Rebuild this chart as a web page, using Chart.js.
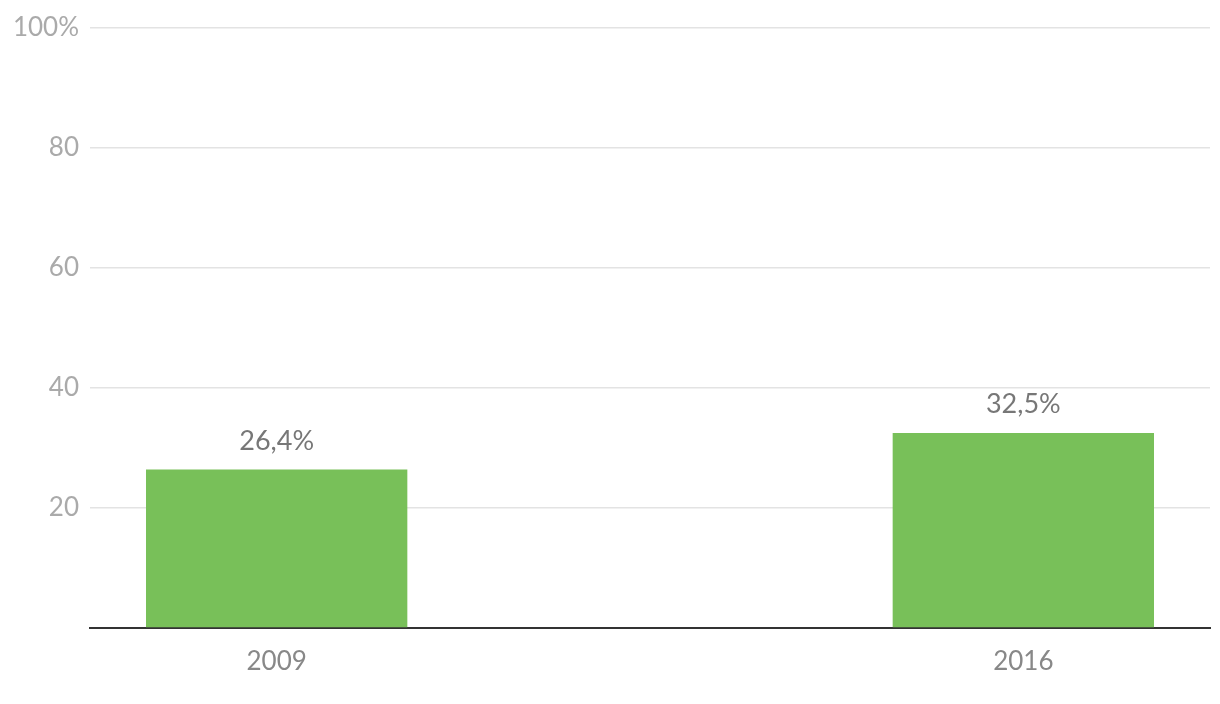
<!DOCTYPE html>
<html>
<head>
<meta charset="utf-8">
<script src="https://cdn.jsdelivr.net/npm/chart.js@4"></script>
<style>
  html, body { margin: 0; padding: 0; background: #fff; }
  #wrap { width: 1220px; height: 704px; }
</style>
</head>
<body>
<div id="wrap"><canvas id="barChart" width="1220" height="704"></canvas></div>
<script>
// chart data
const years = ['2009', '2016'];
const shares = [26.4, 32.5];
const yTicks = [0, 20, 40, 60, 80, 100];

Chart.defaults.font.family = 'Lato, "Noto Sans", sans-serif';

// draws the value above every bar
const valueLabels = {
  id: 'valueLabels',
  afterDatasetsDraw(chart) {
    const c = chart.ctx;
    const meta = chart.getDatasetMeta(0);
    c.save();
    c.fillStyle = '#777';
    c.font = '27px Lato, "Noto Sans", sans-serif';
    c.textAlign = 'center';
    c.textBaseline = 'bottom';
    meta.data.forEach((bar, i) => {
      c.fillText(shares[i].toFixed(1).replace('.', ',') + '%', bar.x, bar.y - 15);
    });
    c.restore();
  }
};

const ctx = document.getElementById('barChart').getContext('2d');
new Chart(ctx, {
  type: 'bar',
  data: {
    datasets: [{
      data: shares.map((v, i) => ({ x: i, y: v })),
      backgroundColor: '#78c059',
      categoryPercentage: 1,
      barPercentage: 0.35
    }]
  },
  options: {
    responsive: false,
    animation: false,
    layout: { padding: { top: 28, right: 10, left: 0, bottom: 0 } },
    plugins: {
      legend: { display: false },
      tooltip: { enabled: false }
    },
    scales: {
      x: {
        type: 'linear',
        min: -0.25,
        max: 1.25,
        offset: false,
        afterBuildTicks(scale) { scale.ticks = years.map((y, i) => ({ value: i })); },
        grid: { display: false },
        border: { color: '#333', width: 2 },
        ticks: { color: '#888', font: { size: 26 }, padding: 10, callback: v => years[v] },
        afterFit(scale) { scale.height = 76; }
      },
      y: {
        min: 0,
        max: 100,
        afterBuildTicks(scale) { scale.ticks = yTicks.map(v => ({ value: v })); },
        grid: { color: '#e3e3e3', lineWidth: 1.5, drawTicks: false },
        border: { display: false },
        ticks: {
          color: '#aaa',
          font: { size: 26 },
          padding: 11,
          callback: v => v === 0 ? '' : (v === 100 ? '100%' : v)
        },
        afterFit(scale) { scale.width = 90; }
      }
    }
  },
  plugins: [valueLabels]
});
</script>
</body>
</html>
